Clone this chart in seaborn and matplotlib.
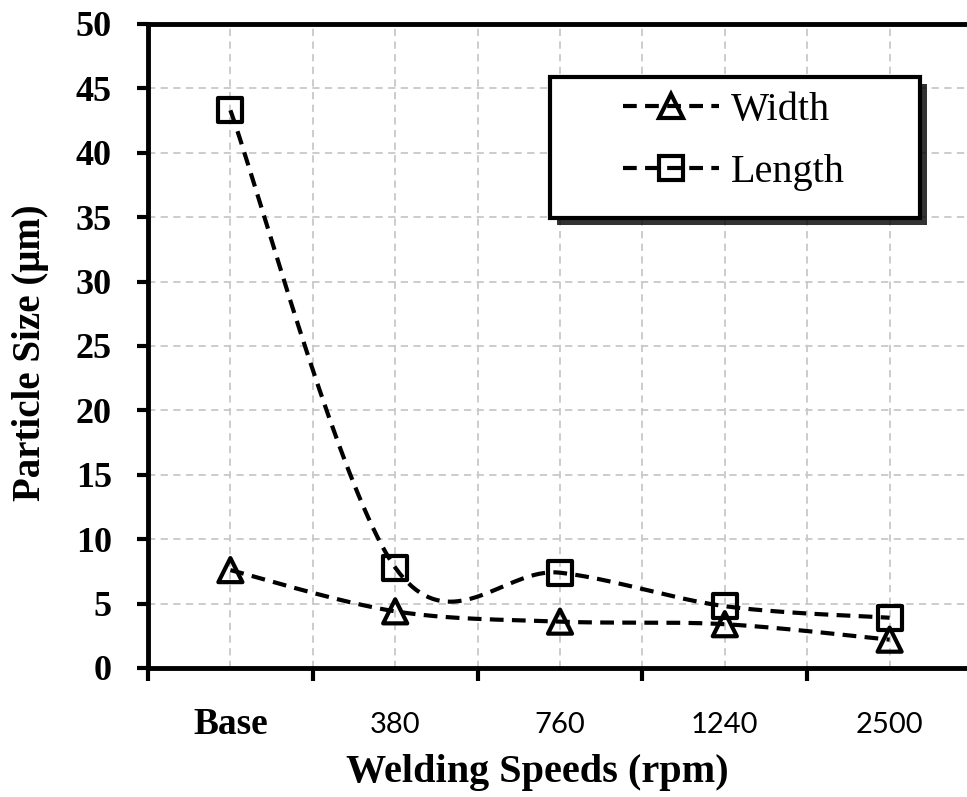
import numpy as np
import seaborn as sns
import matplotlib.pyplot as plt
import matplotlib.patheffects as pe
from matplotlib.lines import Line2D
from matplotlib.patches import Rectangle

speeds = ['Base', '380', '760', '1240', '2500']
width_um = [7.6, 4.4, 3.6, 3.4, 2.2]
length_um = [43.3, 7.8, 7.4, 4.8, 3.9]

SERIF = 'Liberation Serif'
SANS = 'Lato'


def smooth(y, n=40):
    # excel style smoothed line: bezier segments with catmull-rom handles
    pts = np.column_stack([np.arange(len(y), dtype=float), np.asarray(y, float)])
    t = np.linspace(0, 1, n)[:, None]
    out = []
    for i in range(len(pts) - 1):
        p0 = pts[max(i - 1, 0)]
        p1, p2 = pts[i], pts[i + 1]
        p3 = pts[min(i + 2, len(pts) - 1)]
        c1 = p1 + (p2 - p0) / 6
        c2 = p2 - (p3 - p1) / 6
        seg = (1 - t)**3 * p1 + 3 * (1 - t)**2 * t * c1 + 3 * (1 - t) * t**2 * c2 + t**3 * p2
        out.append(seg if i == 0 else seg[1:])
    out = np.vstack(out)
    return out[:, 0], out[:, 1]


sns.set_style('white')
plt.rcParams['text.color'] = 'black'
plt.rcParams['axes.labelcolor'] = 'black'
plt.rcParams['xtick.color'] = 'black'
plt.rcParams['ytick.color'] = 'black'

fig = plt.figure(figsize=(9.67, 7.97), dpi=100)
ax = fig.add_axes([148 / 967, 129 / 797, 824 / 967, 644 / 797])

xpos = np.arange(len(speeds))
for vals, mk in [(width_um, '^'), (length_um, 's')]:
    sx, sy = smooth(vals)
    sns.lineplot(x=sx, y=sy, sort=False, color='black', lw=3, ax=ax, zorder=3)
    ax.lines[-1].set_dashes((3.3, 2))
    sns.scatterplot(x=xpos, y=vals, marker=mk, s=300, color='black', linewidth=3,
                    ax=ax, zorder=4)
    ax.collections[-1].set_facecolor('none')
    ax.collections[-1].set_edgecolor('black')

ax.set_xlim(-0.5, 4.5)
ax.set_ylim(0, 50)
ax.set_yticks(np.arange(0, 51, 5))
ax.set_xticks(np.arange(-0.5, 4.6, 1))
ax.set_xticklabels([])
ax.set_xticks(xpos, minor=True)
ax.set_xticklabels(speeds, minor=True)

for lab in ax.get_yticklabels():
    lab.set_fontfamily(SERIF)
    lab.set_fontweight('bold')
    lab.set_fontsize(26)
for i, lab in enumerate(ax.xaxis.get_minorticklabels()):
    lab.set_va('center')
    lab.set_color('black')
    if i == 0:
        lab.set_fontfamily(SERIF)
        lab.set_fontweight('bold')
        lab.set_fontsize(27)
    else:
        lab.set_fontfamily(SANS)
        lab.set_fontsize(21)

ax.tick_params(axis='y', left=True, direction='out', length=8, width=3, pad=18, colors='black')
ax.tick_params(axis='x', which='major', bottom=True, direction='out', length=9, width=3,
               colors='black')
ax.tick_params(axis='x', which='minor', bottom=True, length=0, pad=41, labelcolor='black')

ax.set_axisbelow(True)
grid_kw = dict(color='#c8c8c8', linestyle=(0, (4, 3)), linewidth=1.3)
ax.grid(True, axis='y', which='major', **grid_kw)
ax.grid(True, axis='x', which='both', **grid_kw)

for side in ['top', 'left', 'bottom']:
    ax.spines[side].set_linewidth(3.5)
    ax.spines[side].set_color('black')
ax.spines['right'].set_visible(False)

ax.set_ylabel('Particle Size (μm)', family=SERIF, fontweight='bold', fontsize=28, va='center',
              color='black')
ax.yaxis.set_label_coords(-0.143, 0.49)
ax.set_xlabel('Welding Speeds (rpm)', family=SERIF, fontweight='bold', fontsize=29,
              color='black')
ax.xaxis.set_label_coords(0.472, -0.133)

# legend box with drop shadow
box = Rectangle((0.488, 0.699), 0.449, 0.219, transform=ax.transAxes,
                facecolor='white', edgecolor='black', linewidth=3, zorder=6)
box.set_path_effects([pe.SimplePatchShadow(offset=(5, -5), shadow_rgbFace='black', alpha=0.8),
                      pe.Normal()])
ax.add_patch(box)

handles = [Line2D([], [], color='black', lw=3, dashes=(3.3, 2), marker=m, ms=17,
                  mfc='none', mec='black', mew=3) for m in ['^', 's']]
leg = ax.legend(handles, ['Width', 'Length'], loc='upper left', bbox_to_anchor=(0.576, 0.894),
                frameon=False, borderpad=0, borderaxespad=0, handlelength=2.4,
                handletextpad=0.3, labelspacing=0.6, numpoints=1,
                prop={'family': SERIF, 'size': 29})
leg.set_zorder(7)
for txt in leg.get_texts():
    txt.set_color('black')

fig.savefig('out.png', dpi=100)
